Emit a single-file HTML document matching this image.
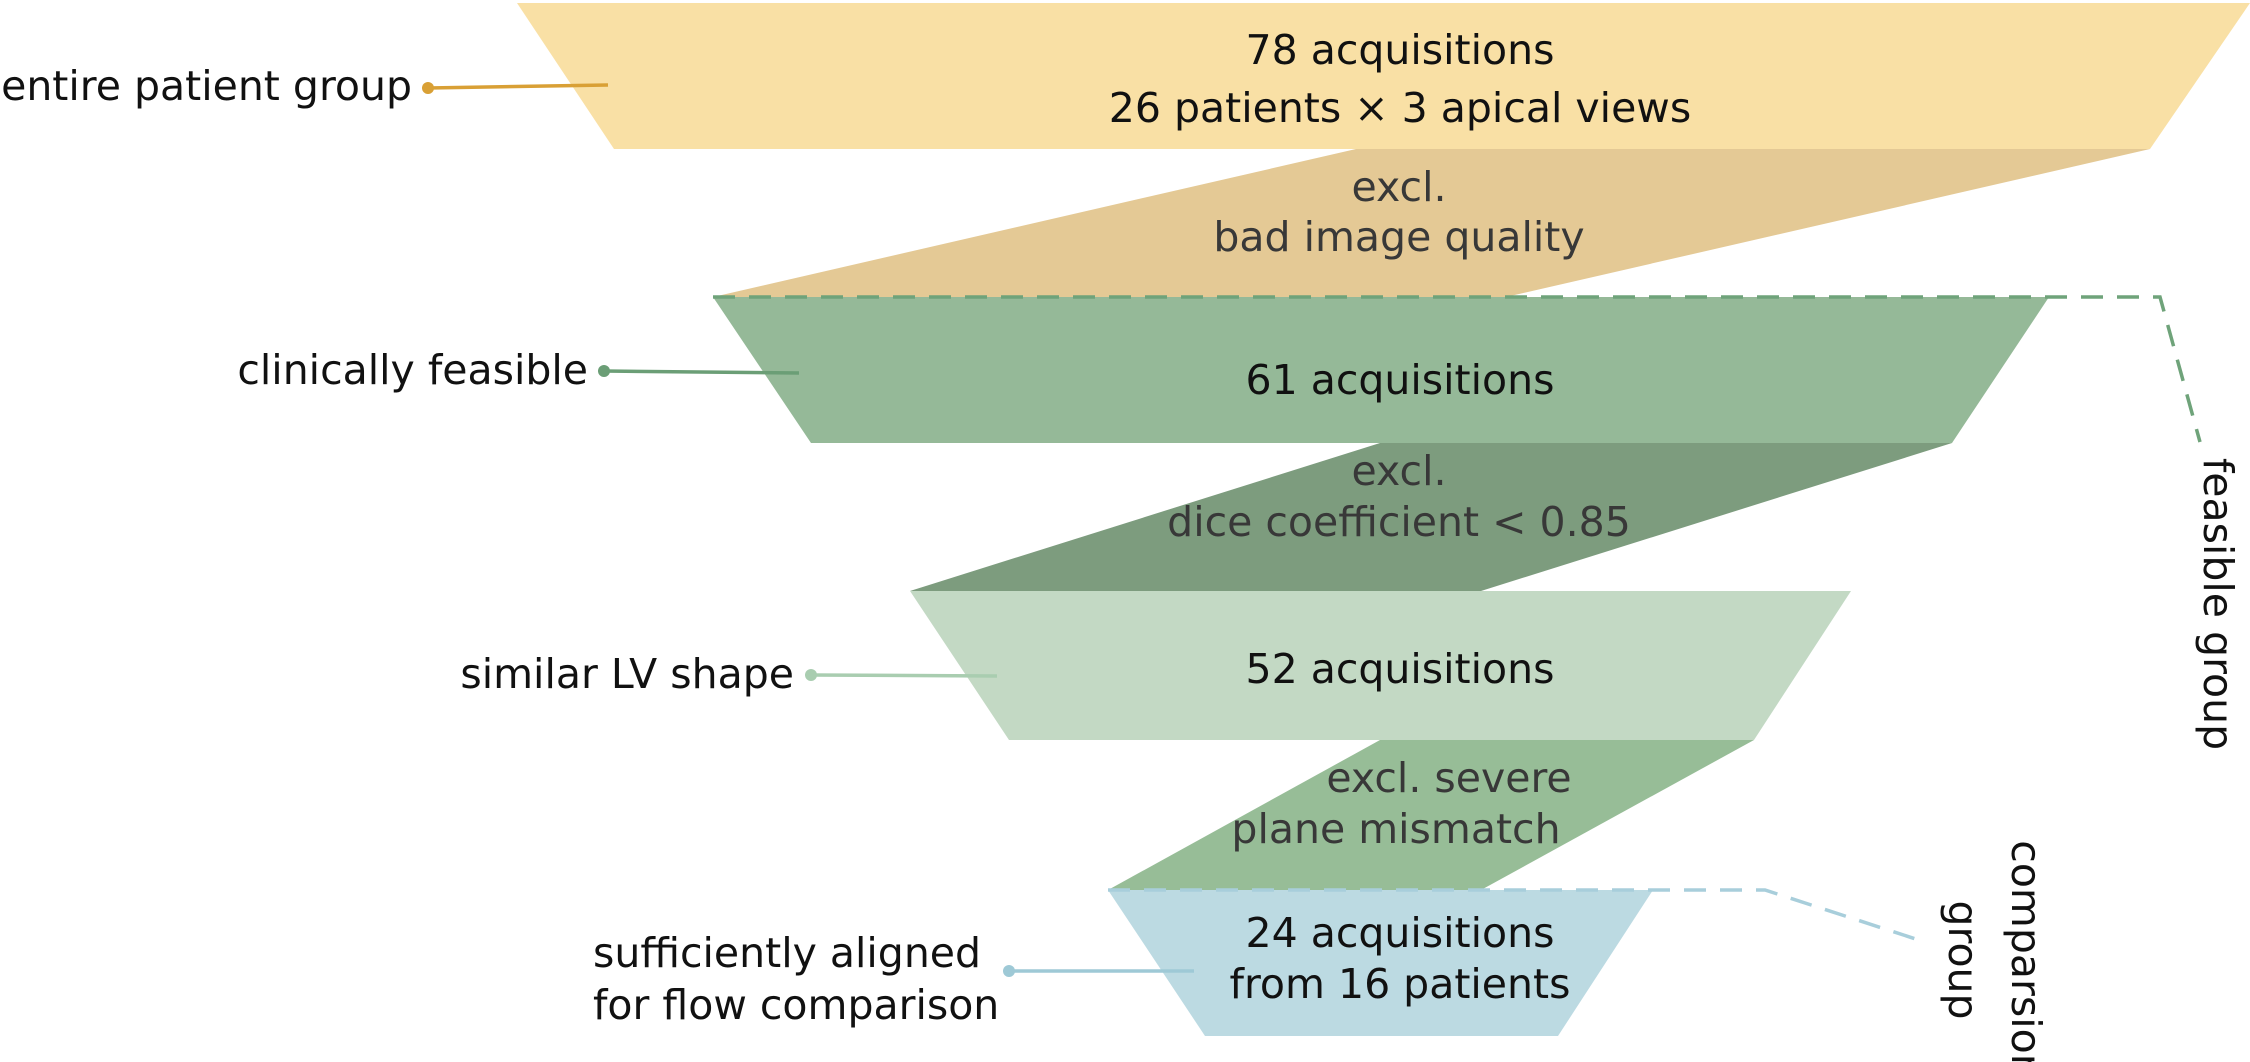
<!DOCTYPE html>
<html><head><meta charset="utf-8"><style>
html,body{margin:0;padding:0;background:#fff}
svg{display:block}
text{font-family:"DejaVu Sans","Liberation Sans",sans-serif;font-size:41px;dominant-baseline:central}
</style></head><body>
<svg width="2250" height="1062" viewBox="0 0 2250 1062" xmlns="http://www.w3.org/2000/svg">
<polygon points="517,3 2250,3 2150,149 614,149" fill="#f9e0a5"/>
<polygon points="1356,149 2150,149 1506,297 713,297" fill="#e4c995"/>
<polygon points="713,297 2049,297 1952,443 811,443" fill="#95b998"/>
<polygon points="1380,443 1952,443 1481,591 910,591" fill="#7d9c7e"/>
<polygon points="910,591 1851,591 1754,740 1009,740" fill="#c3d9c4"/>
<polygon points="1380,740 1754,740 1481,890 1108,890" fill="#97bd97"/>
<polygon points="1108,890 1653,890 1558,1036 1205,1036" fill="#bcdae2"/>
<polyline points="713,297 2160,297 2200,442" fill="none" stroke="#6fa37a" stroke-width="3.5" stroke-dasharray="22,14"/>
<polyline points="1108,890 1765,890 1925,942" fill="none" stroke="#a8cedb" stroke-width="3.5" stroke-dasharray="22,14"/>
<line x1="428" y1="88" x2="608" y2="85" stroke="#d9a035" stroke-width="3.5"/><circle cx="428" cy="88" r="6" fill="#d9a035"/>
<line x1="604" y1="371" x2="799" y2="373" stroke="#6b9e76" stroke-width="3.5"/><circle cx="604" cy="371" r="6" fill="#6b9e76"/>
<line x1="811" y1="675" x2="997" y2="676" stroke="#a9cdb0" stroke-width="3.5"/><circle cx="811" cy="675" r="6" fill="#a9cdb0"/>
<line x1="1009" y1="971" x2="1194" y2="971" stroke="#9ec9d6" stroke-width="3.5"/><circle cx="1009" cy="971" r="6" fill="#9ec9d6"/>
<g fill="#111">
<text x="412" y="86" text-anchor="end">entire patient group</text>
<text x="588" y="370" text-anchor="end">clinically feasible</text>
<text x="794" y="674" text-anchor="end">similar LV shape</text>
<text x="593" y="953">sufficiently aligned</text>
<text x="593" y="1005">for flow comparison</text>
</g>
<g fill="#111" text-anchor="middle">
<text x="1400" y="50">78 acquisitions</text>
<text x="1400" y="108">26 patients × 3 apical views</text>
<text x="1400" y="380">61 acquisitions</text>
<text x="1400" y="669">52 acquisitions</text>
<text x="1400" y="933">24 acquisitions</text>
<text x="1400" y="984">from 16 patients</text>
</g>
<g fill="#383838" text-anchor="middle">
<text x="1399" y="187">excl.</text>
<text x="1399" y="237">bad image quality</text>
<text x="1399" y="471">excl.</text>
<text x="1399" y="522">dice coefficient &lt; 0.85</text>
<text x="1449" y="778">excl. severe</text>
<text x="1396" y="829">plane mismatch</text>
</g>
<g fill="#111" style="font-size:39px">
<text transform="translate(2218,604) rotate(90)" text-anchor="middle">feasible group</text>
<text transform="translate(2026,960) rotate(90)" text-anchor="middle">comparsion</text>
<text transform="translate(1963,960) rotate(90)" text-anchor="middle">group</text>
</g>
</svg>
</body></html>
